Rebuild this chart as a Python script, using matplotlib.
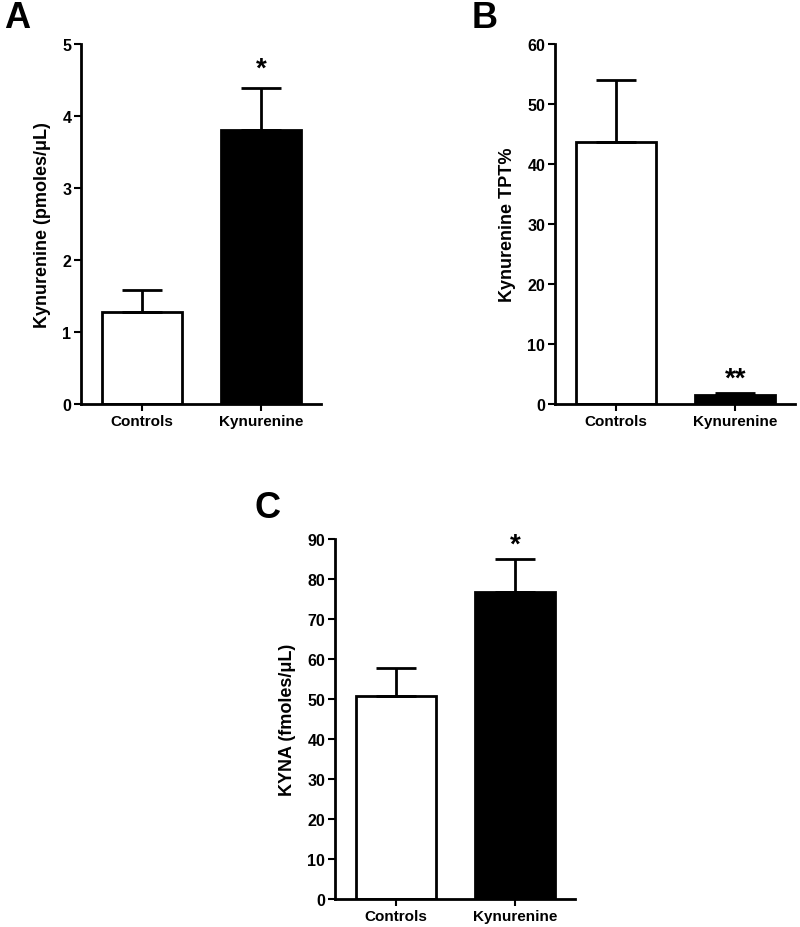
import matplotlib
matplotlib.use("Agg")
import matplotlib.pyplot as plt

plt.rcParams['font.family'] = ['Liberation Sans', 'DejaVu Sans']
plt.rcParams['font.weight'] = 'bold'

groups = ["Controls", "Kynurenine"]

# panel A: kynurenine (pmoles/uL)
kyn_mean = [1.28, 3.81]
kyn_sem = [0.30, 0.58]

# panel B: kynurenine TPT%
tpt_mean = [43.6, 1.55]
tpt_sem = [10.4, 0.25]

# panel C: KYNA (fmoles/uL)
kyna_mean = [50.7, 76.7]
kyna_sem = [7.0, 8.3]

W, H = 800, 928
fig = plt.figure(figsize=(W / 100, H / 100), dpi=100)


def panel(left, top, letter, mean, sem, ylim, step, ylabel, star, star_y, lx, ly):
    ax = fig.add_axes([left / W, (H - top - 360) / H, 240 / W, 360 / H])
    x = [0, 1]
    ax.bar(x, mean, width=0.667, color=["white", "black"], edgecolor="black",
           linewidth=2, zorder=2)
    ax.errorbar(x, mean, yerr=[[0, 0], sem], fmt="none", ecolor="black",
                elinewidth=2, capsize=14.4, capthick=2, zorder=3)
    ax.set_xlim(-0.508, 1.5)
    ax.set_ylim(*ylim)
    ax.set_yticks(range(ylim[0], ylim[1] + 1, step))
    ax.set_xticks(x)
    ax.set_xticklabels(groups, fontsize=11, fontweight="bold")
    for t in ax.get_yticklabels():
        t.set_fontsize(11.5)
        t.set_fontweight("bold")
    ax.set_ylabel(ylabel, fontsize=13, fontweight="bold", labelpad=8)
    for s in ["top", "right"]:
        ax.spines[s].set_visible(False)
    for s in ["left", "bottom"]:
        ax.spines[s].set_linewidth(2)
    ax.tick_params(width=1.5, length=5, pad=2)
    ax.text(1, star_y, star, ha="center", va="center", fontsize=20, fontweight="bold")
    fig.text(lx / W, 1 - ly / H, letter, fontsize=26, fontweight="bold",
             ha="left", va="center")
    return ax


panel(81, 45, "A", kyn_mean, kyn_sem, (0, 5), 1,
      "Kynurenine (pmoles/\u03bcL)", "*", 4.66, 4, 19)
panel(555, 45, "B", tpt_mean, tpt_sem, (0, 60), 10,
      "Kynurenine TPT%", "**", 4.3, 472, 19)
panel(335, 540, "C", kyna_mean, kyna_sem, (0, 90), 10,
      "KYNA (fmoles/\u03bcL)", "*", 88.6, 255, 508)

fig.savefig("out.png", dpi=100)
